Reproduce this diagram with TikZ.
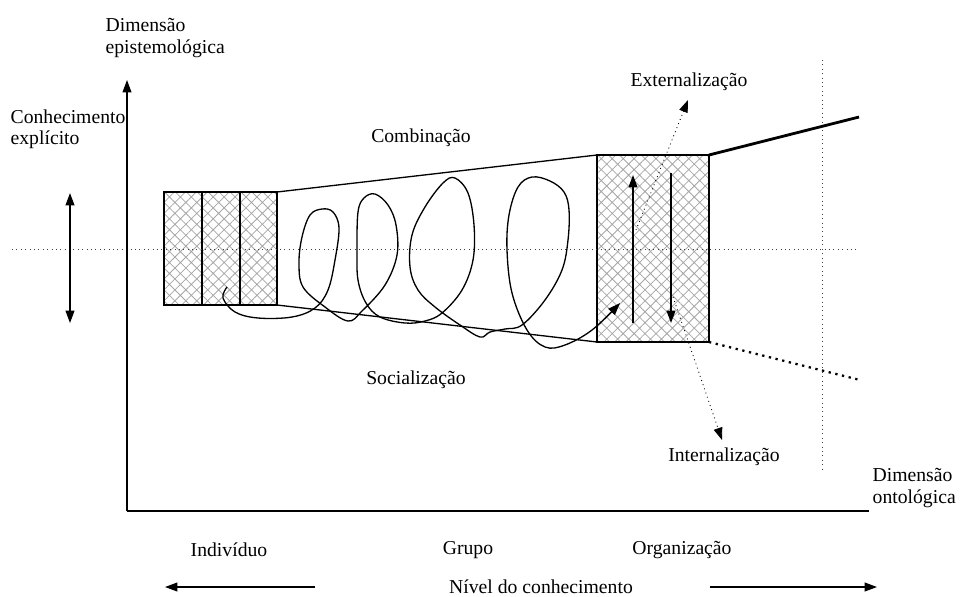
\documentclass[tikz,border=0pt]{standalone}
\usepackage{fontspec}
\setmainfont{Liberation Serif}
\usetikzlibrary{arrows.meta,patterns.meta}

\tikzset{
  arr/.style={-{Triangle[length=7pt,width=5pt]}},
  hatchbox/.style={draw,line width=0.7pt,pattern={Hatch[angle=45,distance=4.4pt,line width=0.45pt]},pattern color=black!35},
  guide/.style={dotted,line width=0.5pt,black!75},
  lbl/.style={inner sep=0pt,align=left,font=\fontsize{11.2}{12.2}\selectfont}
}

\begin{document}
\begin{tikzpicture}[x=0.02cm,y=-0.02cm,line width=0.75pt]
    \useasboundingbox (0,0) rectangle (972,596);
    % Hatched boxes: three on the left, one on the right
    \foreach \x/\xx in {164/202, 202/240, 240/277} {
        \draw[hatchbox] (\x,192) rectangle (\xx,305);
    }
    \draw[hatchbox] (597,155) rectangle (709,342);
    % Guide lines
    \draw[guide] (12,249) -- (858,249);
    \draw[guide] (822,60) -- (822,472);
    % Axes
    \coordinate (origin) at (127,511);
    \coordinate (ytop) at (127,80);
    \coordinate (xend) at (869,511);
    \draw[arr] (origin) -- (ytop);
    \draw (origin) -- (xend);
    \draw[{Triangle[length=7pt,width=5pt]}-{Triangle[length=7pt,width=5pt]}] (70,193) -- (70,323);
    % Widening band
    \draw (277,192) -- (597,155);
    \draw (277,305) -- (597,342);
    \draw[line width=1.6pt] (709,155) -- (859,117);
    \draw[line width=1.3pt,dash pattern=on 1.3pt off 2.6pt] (709,342) -- (860,380);
    % Spiral
    \draw[arr] plot[smooth,tension=0.6] coordinates {
        (227,287) (223,298) (235,312) (258,318) (292,317) (315,308) (328,290)
        (335,260) (339,228) (333,212) (322,209) (310,215) (302,237) (299,263)
        (303,287) (325,307) (348,321) (362,311) (385,285) (397,255) (396,225)
        (388,205) (375,194) (364,198) (358,212) (357,250) (358,280) (366,303)
        (380,317) (405,323) (425,321) (442,313) (462,290) (473,260) (474,225)
        (468,193) (455,178) (443,183) (425,207) (412,235) (410,267) (418,290)
        (435,307) (460,325) (480,337) (490,332) (505,329) (522,325) (545,300)
        (562,270) (568,240) (569,210) (564,192) (550,181) (532,177) (518,187)
        (509,215) (507,250) (512,293) (527,330) (545,347) (565,345) (592,330)
        (620,303)};
    % Conversions inside the organisation box
    \draw[arr] (633,323) -- (633,175);
    \draw[arr] (671,173) -- (671,323);
    \coordinate (extfrom) at (636,230);
    \coordinate (extto) at (688,100);
    \coordinate (intfrom) at (673,297);
    \coordinate (intto) at (722,440);
    \draw[arr,dotted,line width=0.5pt] (extfrom) -- (extto);
    \draw[arr,dotted,line width=0.5pt] (intfrom) -- (intto);
    % Labels
    \node[lbl,anchor=west] (epist) at (105,38) {Dimensão\\epistemológica};
    \node[lbl,anchor=west] (explicit) at (10,129) {Conhecimento\\explícito};
    \node[lbl] (comb) at (421,138) {Combinação};
    \node[lbl] (soc) at (416,380) {Socialização};
    \node[lbl] (ext) at (689,82) {Externalização};
    \node[lbl] (int) at (724,457) {Internalização};
    \node[lbl,anchor=west] (ontol) at (872,488) {Dimensão\\ontológica};
    \node[lbl] (indiv) at (229,550) {Indivíduo};
    \node[lbl] (grupo) at (468,550) {Grupo};
    \node[lbl] (org) at (682,550) {Organização};
    \node[lbl] (nivel) at (541,587) {Nível do conhecimento};
    \coordinate (lefttail) at (315,587);
    \coordinate (lefthead) at (165,587);
    \coordinate (righttail) at (710,587);
    \coordinate (righthead) at (877,587);
    \draw[arr] (lefttail) -- (lefthead);
    \draw[arr] (righttail) -- (righthead);
\end{tikzpicture}
\end{document}
